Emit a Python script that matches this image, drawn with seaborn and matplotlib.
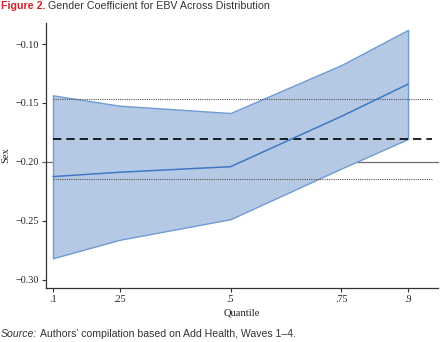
import matplotlib
matplotlib.use("Agg")
import matplotlib.pyplot as plt
import seaborn as sns
import pandas as pd

quantiles = [0.10, 0.25, 0.50, 0.75, 0.90]
coef = [-0.2124, -0.2087, -0.2040, -0.1613, -0.1340]
ci_low = [-0.2816, -0.2660, -0.2485, -0.2055, -0.1805]
ci_high = [-0.1435, -0.1523, -0.1585, -0.1178, -0.0880]
ols_coef = -0.1805
ols_low = -0.2147
ols_high = -0.1470
ref_line = -0.20
ols_end = 0.955
yticks = [-0.30, -0.25, -0.20, -0.15, -0.10]
xtick_labels = [".1", ".25", ".5", ".75", ".9"]

df = pd.DataFrame({"Quantile": quantiles, "Sex": coef})

sns.set_theme(style="white")
plt.rcParams["font.family"] = ["Liberation Serif", "DejaVu Serif"]
plt.rcParams["axes.unicode_minus"] = True
SANS = ["Liberation Sans", "DejaVu Sans"]

fig = plt.figure(figsize=(4.40, 3.42), dpi=100)
ax = fig.add_axes([0.1045, 0.158, 0.8905, 0.7747])

ax.axhline(ref_line, xmin=-0.008, color="#6e6e6e", lw=0.9, zorder=1, clip_on=False)
ax.fill_between(quantiles, ci_low, ci_high, facecolor="#b5c9e5",
                edgecolor="#6f9bd3", lw=1.0, zorder=2)
ax.hlines([ols_high, ols_low], quantiles[0], ols_end, colors="#555555",
          linestyles=(0, (1, 1)), lw=0.8, zorder=3)
ax.hlines(ols_coef, quantiles[0], ols_end, colors="black",
          linestyles=(0, (5, 3)), lw=1.2, zorder=3)
sns.lineplot(data=df, x="Quantile", y="Sex", ax=ax, color="#3f77c2",
             lw=1.1, zorder=4)

ax.set_xlim(0.0842, 0.967)
ax.set_ylim(-0.3068, -0.0822)
ax.set_xticks(quantiles)
ax.set_xticklabels(xtick_labels)
ax.set_yticks(yticks)
ax.set_yticklabels([f"{v:.2f}".replace("-", "\u2212") for v in yticks])

for s in ["top", "right"]:
    ax.spines[s].set_visible(False)
for s in ["left", "bottom"]:
    ax.spines[s].set_color("#333333")
    ax.spines[s].set_linewidth(0.9)
ax.tick_params(axis="both", which="both", direction="out", length=3,
               width=0.8, color="#333333", labelsize=7.3, pad=2,
               left=True, bottom=True, labelcolor="#222222")
ax.set_xlabel("Quantile", fontsize=7.6, color="#222222", labelpad=3)
ax.set_ylabel("Sex", fontsize=7.6, color="#222222", labelpad=4)

t1 = fig.text(0.002, 0.996, "Figure 2.", color="#d2232a", fontsize=7.7,
              fontweight="bold", family=SANS, va="top", ha="left")
s1 = fig.text(0.002, 0.015, "Source:", color="#333333", fontsize=7.6,
              style="italic", family=SANS, va="baseline", ha="left")
fig.canvas.draw()
r = fig.canvas.get_renderer()
b1 = t1.get_window_extent(r)
b2 = s1.get_window_extent(r)
W = fig.bbox.width
fig.text((b1.x1 + 3) / W, 0.996, "Gender Coefficient for EBV Across Distribution",
         color="#333333", fontsize=7.7, family=SANS, va="top", ha="left")
fig.text((b2.x1 + 2.5) / W, 0.015,
         "Authors\u2019 compilation based on Add Health, Waves 1\u20134.",
         color="#333333", fontsize=7.6, family=SANS, va="baseline", ha="left")

fig.savefig("out.png", dpi=100)
